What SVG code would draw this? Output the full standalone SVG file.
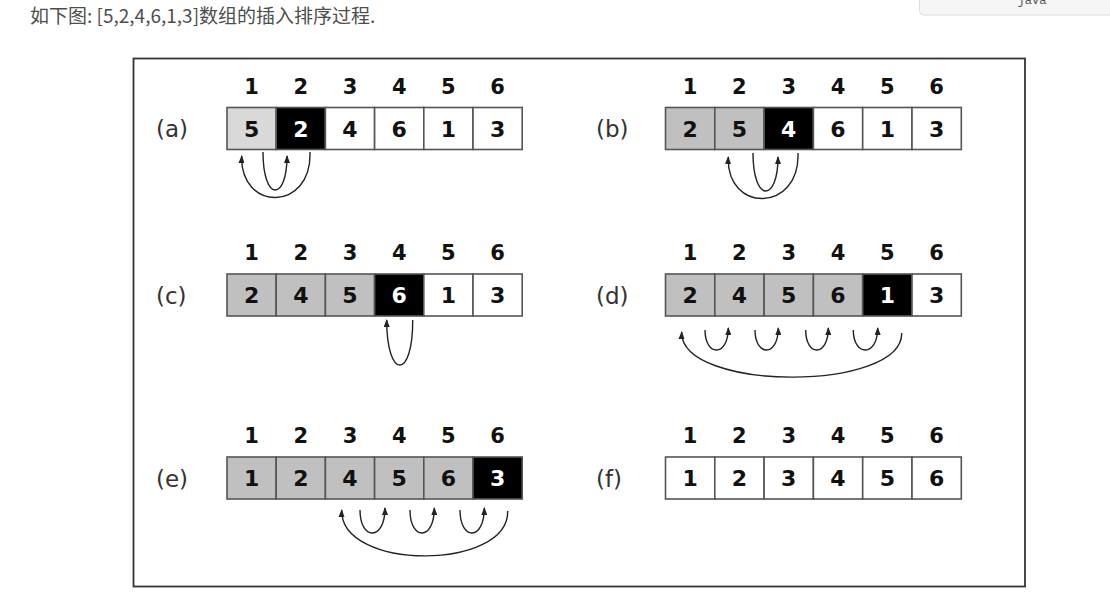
<svg xmlns="http://www.w3.org/2000/svg" width="1110" height="610" viewBox="0 0 1110 610">
<defs>
<marker id="ah" viewBox="0 0 8 6" refX="7" refY="3" markerWidth="8" markerHeight="6" markerUnits="userSpaceOnUse" orient="auto">
<path d="M0,0 L8,3 L0,6 Z" fill="#222"/>
</marker>
<style>
.hdr{font-family:"Noto Sans CJK SC","Noto Sans",sans-serif;font-size:19px;fill:#4d4d4d}
.frame{fill:none;stroke:#333;stroke-width:1.8}
.c{stroke:#555;stroke-width:1.6}
.w{fill:#fff}
.g{fill:#c0c0c0}
.lg{fill:#d9d9d9}
.k{fill:#000}
.idx{font-family:"DejaVu Sans",sans-serif;font-weight:bold;font-size:21px;fill:#111;text-anchor:middle}
.v{font-family:"DejaVu Sans",sans-serif;font-weight:bold;font-size:22px;fill:#111;text-anchor:middle}
.vw{fill:#fff}
.lab{font-family:"DejaVu Sans",sans-serif;font-size:23px;fill:#333}
.arc{fill:none;stroke:#222;stroke-width:1.4;marker-end:url(#ah)}
.java{font-family:"Liberation Mono",monospace;font-size:12px;fill:#555;text-anchor:middle}
</style>
</defs>
<rect width="1110" height="610" fill="#fff"/>
<text class="hdr" x="30" y="23">如下图: [5,2,4,6,1,3]数组的插入排序过程.</text>
<g id="java-tab">
<rect x="919.5" y="-8" width="210" height="23" rx="4" fill="#f6f6f6" stroke="#ddd"/>
<text class="java" x="1032" y="4">java</text>
</g>
<rect class="frame" x="133.5" y="58.5" width="891.5" height="528"/>

<g id="panel-a">
<text class="lab" x="156" y="137">(a)</text>
<text class="idx" x="251.6" y="94">1</text><text class="idx" x="300.8" y="94">2</text><text class="idx" x="350" y="94">3</text><text class="idx" x="399.2" y="94">4</text><text class="idx" x="448.4" y="94">5</text><text class="idx" x="497.6" y="94">6</text>
<rect class="c lg" x="227" y="107.5" width="49.2" height="42"/>
<rect class="c k" x="276.2" y="107.5" width="49.2" height="42"/>
<rect class="c w" x="325.4" y="107.5" width="49.2" height="42"/>
<rect class="c w" x="374.6" y="107.5" width="49.2" height="42"/>
<rect class="c w" x="423.8" y="107.5" width="49.2" height="42"/>
<rect class="c w" x="473" y="107.5" width="49.2" height="42"/>
<text class="v" x="251.6" y="136.5">5</text><text class="v vw" x="300.8" y="136.5">2</text><text class="v" x="350" y="136.5">4</text><text class="v" x="399.2" y="136.5">6</text><text class="v" x="448.4" y="136.5">1</text><text class="v" x="497.6" y="136.5">3</text>
</g>

<g id="panel-b">
<text class="lab" x="596" y="137">(b)</text>
<text class="idx" x="690.1" y="94">1</text><text class="idx" x="739.4" y="94">2</text><text class="idx" x="788.7" y="94">3</text><text class="idx" x="838" y="94">4</text><text class="idx" x="887.3" y="94">5</text><text class="idx" x="936.6" y="94">6</text>
<rect class="c g" x="665.5" y="107.5" width="49.3" height="42"/>
<rect class="c g" x="714.8" y="107.5" width="49.3" height="42"/>
<rect class="c k" x="764.1" y="107.5" width="49.3" height="42"/>
<rect class="c w" x="813.4" y="107.5" width="49.3" height="42"/>
<rect class="c w" x="862.7" y="107.5" width="49.3" height="42"/>
<rect class="c w" x="912" y="107.5" width="49.3" height="42"/>
<text class="v" x="690.1" y="136.5">2</text><text class="v" x="739.4" y="136.5">5</text><text class="v vw" x="788.7" y="136.5">4</text><text class="v" x="838" y="136.5">6</text><text class="v" x="887.3" y="136.5">1</text><text class="v" x="936.6" y="136.5">3</text>
</g>

<g id="panel-c">
<text class="lab" x="156" y="303.5">(c)</text>
<text class="idx" x="251.6" y="260">1</text><text class="idx" x="300.8" y="260">2</text><text class="idx" x="350" y="260">3</text><text class="idx" x="399.2" y="260">4</text><text class="idx" x="448.4" y="260">5</text><text class="idx" x="497.6" y="260">6</text>
<rect class="c g" x="227" y="274" width="49.2" height="42"/>
<rect class="c g" x="276.2" y="274" width="49.2" height="42"/>
<rect class="c g" x="325.4" y="274" width="49.2" height="42"/>
<rect class="c k" x="374.6" y="274" width="49.2" height="42"/>
<rect class="c w" x="423.8" y="274" width="49.2" height="42"/>
<rect class="c w" x="473" y="274" width="49.2" height="42"/>
<text class="v" x="251.6" y="303">2</text><text class="v" x="300.8" y="303">4</text><text class="v" x="350" y="303">5</text><text class="v vw" x="399.2" y="303">6</text><text class="v" x="448.4" y="303">1</text><text class="v" x="497.6" y="303">3</text>
</g>

<g id="panel-d">
<text class="lab" x="596" y="303.5">(d)</text>
<text class="idx" x="690.1" y="260">1</text><text class="idx" x="739.4" y="260">2</text><text class="idx" x="788.7" y="260">3</text><text class="idx" x="838" y="260">4</text><text class="idx" x="887.3" y="260">5</text><text class="idx" x="936.6" y="260">6</text>
<rect class="c g" x="665.5" y="274" width="49.3" height="42"/>
<rect class="c g" x="714.8" y="274" width="49.3" height="42"/>
<rect class="c g" x="764.1" y="274" width="49.3" height="42"/>
<rect class="c g" x="813.4" y="274" width="49.3" height="42"/>
<rect class="c k" x="862.7" y="274" width="49.3" height="42"/>
<rect class="c w" x="912" y="274" width="49.3" height="42"/>
<text class="v" x="690.1" y="303">2</text><text class="v" x="739.4" y="303">4</text><text class="v" x="788.7" y="303">5</text><text class="v" x="838" y="303">6</text><text class="v vw" x="887.3" y="303">1</text><text class="v" x="936.6" y="303">3</text>
</g>

<g id="panel-e">
<text class="lab" x="156" y="487">(e)</text>
<text class="idx" x="251.6" y="443">1</text><text class="idx" x="300.8" y="443">2</text><text class="idx" x="350" y="443">3</text><text class="idx" x="399.2" y="443">4</text><text class="idx" x="448.4" y="443">5</text><text class="idx" x="497.6" y="443">6</text>
<rect class="c g" x="227" y="457" width="49.2" height="42"/>
<rect class="c g" x="276.2" y="457" width="49.2" height="42"/>
<rect class="c g" x="325.4" y="457" width="49.2" height="42"/>
<rect class="c g" x="374.6" y="457" width="49.2" height="42"/>
<rect class="c g" x="423.8" y="457" width="49.2" height="42"/>
<rect class="c k" x="473" y="457" width="49.2" height="42"/>
<text class="v" x="251.6" y="486">1</text><text class="v" x="300.8" y="486">2</text><text class="v" x="350" y="486">4</text><text class="v" x="399.2" y="486">5</text><text class="v" x="448.4" y="486">6</text><text class="v vw" x="497.6" y="486">3</text>
</g>

<g id="panel-f">
<text class="lab" x="596" y="487">(f)</text>
<text class="idx" x="690.1" y="443">1</text><text class="idx" x="739.4" y="443">2</text><text class="idx" x="788.7" y="443">3</text><text class="idx" x="838" y="443">4</text><text class="idx" x="887.3" y="443">5</text><text class="idx" x="936.6" y="443">6</text>
<rect class="c w" x="665.5" y="457" width="49.3" height="42"/>
<rect class="c w" x="714.8" y="457" width="49.3" height="42"/>
<rect class="c w" x="764.1" y="457" width="49.3" height="42"/>
<rect class="c w" x="813.4" y="457" width="49.3" height="42"/>
<rect class="c w" x="862.7" y="457" width="49.3" height="42"/>
<rect class="c w" x="912" y="457" width="49.3" height="42"/>
<text class="v" x="690.1" y="486">1</text><text class="v" x="739.4" y="486">2</text><text class="v" x="788.7" y="486">3</text><text class="v" x="838" y="486">4</text><text class="v" x="887.3" y="486">5</text><text class="v" x="936.6" y="486">6</text>
</g>

<g id="connectors">
<path class="arc" d="M310,152 C312,212 240,212 241.7,156"/>
<path class="arc" d="M263,152 C263,202 287,202 287,156"/>
<path class="arc" d="M798,153 C800,213 726,213 728.3,157"/>
<path class="arc" d="M753,153 C753,203 778,203 778,157"/>
<path class="arc" d="M412.7,320 C413,380 386.7,380 386.7,320"/>
<path class="arc" d="M901.7,333 C903,392 680,392 681.7,332"/>
<path class="arc" d="M705,330 C705,357 728.3,357 728.3,328"/>
<path class="arc" d="M755,330 C755,357 778.3,357 778.3,328"/>
<path class="arc" d="M805.7,330 C805.7,357 828.3,357 828.3,328"/>
<path class="arc" d="M853.3,330 C853.3,357 877.7,357 877.7,328"/>
<path class="arc" d="M507.7,511 C509,571 340,571 341.7,510"/>
<path class="arc" d="M360,510 C360,541 385,541 385,508"/>
<path class="arc" d="M410,510 C410,541 434.3,541 434.3,508"/>
<path class="arc" d="M460,510 C460,541 484.3,541 484.3,508"/>
</g>
</svg>
